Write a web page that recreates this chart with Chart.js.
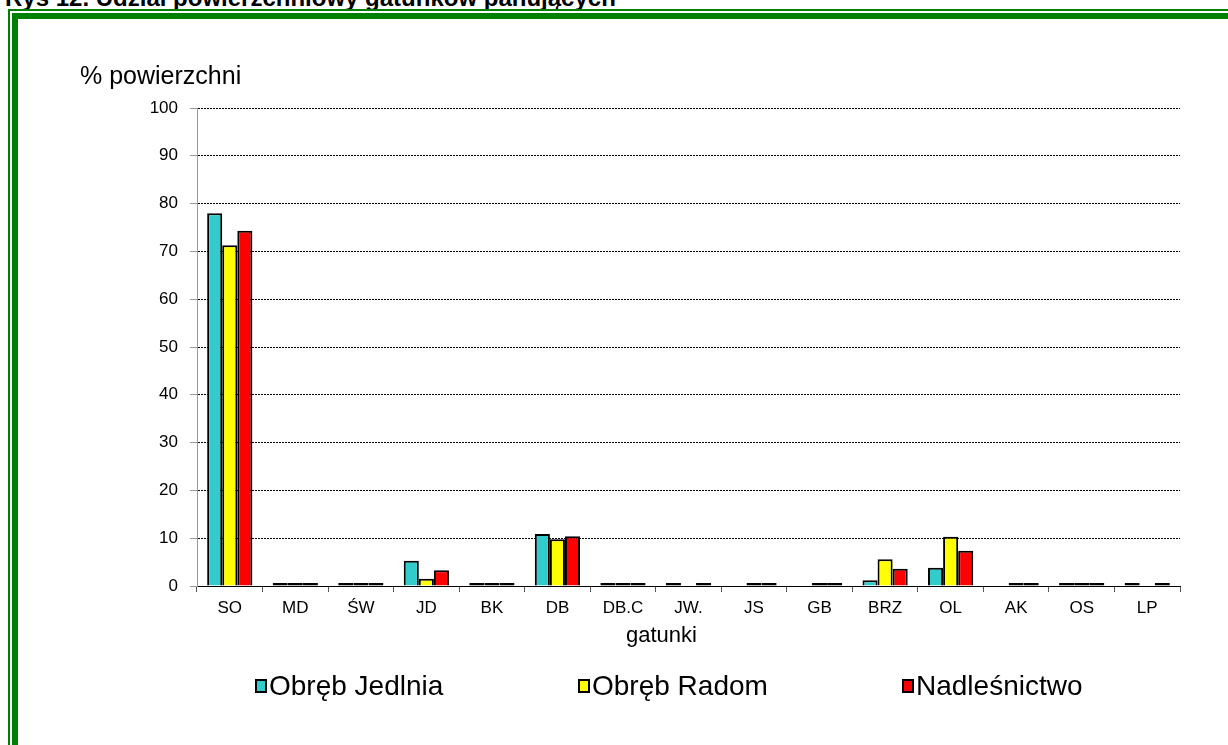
<!DOCTYPE html>
<html><head><meta charset="utf-8">
<script src="https://cdn.jsdelivr.net/npm/chart.js@4.4.1/dist/chart.umd.min.js"></script>
<style>
html,body{margin:0;padding:0;background:#fff;width:1228px;height:745px;overflow:hidden;font-family:"Liberation Sans",Arial,sans-serif;}
#cap{position:absolute;left:5px;top:-14px;font-weight:bold;font-size:24px;line-height:24px;white-space:nowrap;color:#000;}
#f1{position:absolute;left:8px;top:9px;width:1400px;height:900px;border-left:2px solid #008000;border-top:2px solid #008000;}
#f2{position:absolute;left:12px;top:13px;width:1400px;height:900px;border-left:6px solid #008000;border-top:6px solid #008000;}
#c{position:absolute;left:0;top:0;}
.li{position:absolute;display:flex;align-items:center;font-size:28px;line-height:31px;white-space:nowrap;color:#000;}
.lb{width:8px;height:10px;border:2px solid #000;margin-right:2px;}
</style></head>
<body>
<div id="cap">Rys 12. Udział powierzchniowy gatunków panujących</div>
<canvas id="c" width="1228" height="745"></canvas>
<div id="f1"></div><div id="f2"></div>
<div id="legend"></div>
<script>
const categories = ['SO','MD','ŚW','JD','BK','DB','DB.C','JW.','JS','GB','BRZ','OL','AK','OS','LP'];
const seriesNames = ['Obręb Jedlnia','Obręb Radom','Nadleśnictwo'];
const jedlnia      = [78.0, 0.1, 0.4, 5.3, 0.2, 10.9, 0.1, 0.1, null, null, 1.2, 3.8, null, 0.3, 0.1];
const radom        = [71.3, 0.3, 0.1, 1.5, 0.4,  9.8, 0.1, null, 0.1, 0.1, 5.6, 10.3, 0.1, 0.2, null];
const nadlesnictwo = [74.3, 0.2, 0.2, 3.3, 0.3, 10.4, 0.1, 0.1, 0.1, 0.1, 3.6, 7.4, 0.1, 0.2, 0.1];
const yTicks = [0,10,20,30,40,50,60,70,80,90,100];
const seriesColors = ['#33CCCC','#FFFF00','#FF0000'];
const yTitle = '% powierzchni';
const xTitle = 'gatunki';

const FONT = '"Liberation Sans", Arial, sans-serif';
Chart.defaults.font.family = FONT;
Chart.defaults.color = '#000';

const seriesData = [jedlnia, radom, nadlesnictwo];
const datasets = seriesNames.map((n,i)=>({
  label:n, data:seriesData[i], backgroundColor:seriesColors[i],
  borderColor:'#000', borderWidth:2, minBarLength:3,
  borderSkipped: c => (c.raw !== null && Math.abs(c.raw) < 1 ? false : 'start'),
  barPercentage:1, categoryPercentage:0.69
}));

// x-axis title, centred on the chart (Excel style) below the category labels
const xTitlePlugin = {
  id:'xTitlePlugin',
  afterDraw(chart){
    const ctx = chart.ctx, xs = chart.scales.x;
    ctx.save();
    ctx.font = '22px ' + FONT;
    ctx.fillStyle = '#000';
    ctx.textAlign = 'center';
    ctx.textBaseline = 'middle';
    ctx.fillText(xTitle, xs.left - 27 + xs.width/2, xs.top + 50);
    ctx.restore();
  }
};

new Chart(document.getElementById('c'), {
  type:'bar',
  data:{labels:categories, datasets},
  plugins:[xTitlePlugin],
  options:{
    responsive:false, animation:false, devicePixelRatio:1,
    layout:{padding:{left:80,right:48,top:0,bottom:96}},
    plugins:{
      legend:{display:false},
      tooltip:{enabled:false},
      title:{display:true,text:yTitle,align:'start',color:'#000',
        font:{size:25,weight:'normal',family:FONT},padding:{top:62,bottom:16}}
    },
    scales:{
      x:{
        afterFit:s=>{s.height=63;},
        grid:{display:true,drawOnChartArea:false,drawTicks:true,tickLength:6,tickColor:'#555',offset:true},
        border:{display:true,color:'#000',width:1},
        ticks:{font:{size:17},color:'#000',padding:6,maxRotation:0,autoSkip:false}
      },
      y:{
        min:0,max:100,
        afterFit:s=>{s.width=117;},
        afterBuildTicks:s=>{s.ticks=yTicks.map(v=>({value:v}));},
        grid:{color:'#000',lineWidth:1,drawTicks:true,tickLength:7,tickColor:'#999'},
        border:{display:true,color:'#999',width:1,dash:[2,1]},
        ticks:{font:{size:17},color:'#000',padding:12}
      }
    }
  }
});

const legendLeft = [255,578,902];
const lg = document.getElementById('legend');
seriesNames.forEach((n,i)=>{
  const d=document.createElement('div'); d.className='li';
  d.style.left=legendLeft[i]+'px'; d.style.top='670px';
  const b=document.createElement('div'); b.className='lb'; b.style.background=seriesColors[i];
  const t=document.createElement('span'); t.textContent=n;
  d.appendChild(b); d.appendChild(t); lg.appendChild(d);
});
</script>
</body></html>
